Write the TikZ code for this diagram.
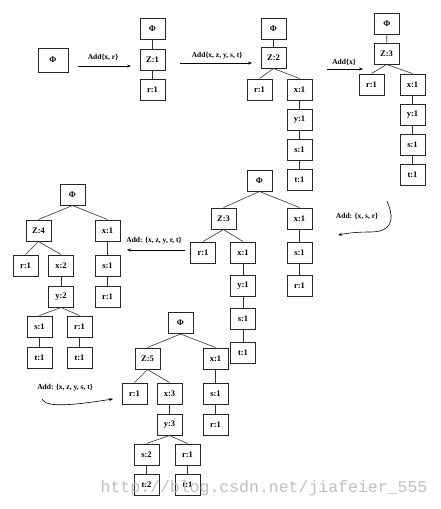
\documentclass[tikz,border=0pt]{standalone}
\usepackage{fontspec}
\setmainfont{Liberation Serif}
\newfontfamily\wmfont{Liberation Mono}
\usetikzlibrary{arrows.meta}
\tikzset{
  bx/.style={draw=black!85, line width=1pt, minimum width=25pt, minimum height=21pt, inner sep=0pt, font=\bfseries\fontsize{8.5}{9}\selectfont},
  big/.style={bx, minimum width=30pt, minimum height=24pt},
  ed/.style={draw=black!80, line width=0.6pt},
  ar/.style={draw=black, line width=0.6pt, -{Stealth[length=4pt,width=3pt]}},
  lb/.style={font=\bfseries\fontsize{7.5}{8}\selectfont, inner sep=0pt},
}
\begin{document}
\begin{tikzpicture}[x=1pt,y=-1pt]
\useasboundingbox (0,0) rectangle (441,509);
% tree 0
\node[big] (p0) at (53,60) {Φ};
% tree 1
\node[bx] (p1) at (152.5,28.5) {Φ};
\node[bx] (z1) at (152.5,59.5) {Z:1};
\node[bx] (r1) at (152.5,89.5) {r:1};
\draw[ed] (p1) -- (z1); \draw[ed] (z1) -- (r1);
% tree 2
\node[bx] (p2) at (273.5,29) {Φ};
\node[bx] (z2) at (273.5,57.5) {Z:2};
\node[bx] (r2) at (259.5,89.5) {r:1};
\node[bx] (x2) at (299.5,89.5) {x:1};
\node[bx] (y2) at (299.5,119.5) {y:1};
\node[bx] (s2) at (299.5,149.5) {s:1};
\node[bx] (t2) at (299.5,179.5) {t:1};
\draw[ed] (p2) -- (z2);
\draw[ed] (z2.south) -- (r2.north); \draw[ed] (z2.south) -- (x2.north);
\draw[ed] (x2) -- (y2); \draw[ed] (y2) -- (s2); \draw[ed] (s2) -- (t2);
% tree 3
\node[bx] (p3) at (387,23.5) {Φ};
\node[bx] (z3) at (386.5,53.5) {Z:3};
\node[bx] (r3) at (371.5,84.5) {r:1};
\node[bx] (x3) at (412.5,84.5) {x:1};
\node[bx] (y3) at (412.5,114.5) {y:1};
\node[bx] (s3) at (412.5,144.5) {s:1};
\node[bx] (t3) at (412.5,174.5) {t:1};
\draw[ed] (p3) -- (z3);
\draw[ed] (z3.south) -- (r3.north); \draw[ed] (z3.south) -- (x3.north);
\draw[ed] (x3) -- (y3); \draw[ed] (y3) -- (s3); \draw[ed] (s3) -- (t3);
% tree 4
\node[bx] (p4) at (259.5,180.5) {Φ};
\node[bx] (z4) at (223.5,218.5) {Z:3};
\node[bx] (xa4) at (299.5,218.5) {x:1};
\node[bx] (sa4) at (299.5,252.5) {s:1};
\node[bx] (ra4) at (299.5,285.5) {r:1};
\node[bx] (r4) at (203,252.5) {r:1};
\node[bx] (x4) at (243,252.5) {x:1};
\node[bx] (y4) at (243,285.5) {y:1};
\node[bx] (s4) at (243,318.5) {s:1};
\node[bx] (t4) at (243,352.5) {t:1};
\draw[ed] (p4.south) -- (z4.north); \draw[ed] (p4.south) -- (xa4.north);
\draw[ed] (xa4) -- (sa4); \draw[ed] (sa4) -- (ra4);
\draw[ed] (z4.south) -- (r4.north); \draw[ed] (z4.south) -- (x4.north);
\draw[ed] (x4) -- (y4); \draw[ed] (y4) -- (s4); \draw[ed] (s4) -- (t4);
% tree 5
\node[bx] (p5) at (72.5,194.5) {Φ};
\node[bx] (z5) at (38.5,230.5) {Z:4};
\node[bx] (xa5) at (107.5,230.5) {x:1};
\node[bx] (sa5) at (107.5,265.5) {s:1};
\node[bx] (ra5) at (107.5,296.5) {r:1};
\node[bx] (r5) at (25.5,265.5) {r:1};
\node[bx] (x5) at (61,265.5) {x:2};
\node[bx] (y5) at (61,296.5) {y:2};
\node[bx] (s5) at (39.5,326.5) {s:1};
\node[bx] (rb5) at (79.5,326.5) {r:1};
\node[bx] (t5) at (39.5,357.5) {t:1};
\node[bx] (tb5) at (79.5,357.5) {t:1};
\draw[ed] (p5.south) -- (z5.north); \draw[ed] (p5.south) -- (xa5.north);
\draw[ed] (xa5) -- (sa5); \draw[ed] (sa5) -- (ra5);
\draw[ed] (z5.south) -- (r5.north); \draw[ed] (z5.south) -- (x5.north);
\draw[ed] (x5) -- (y5);
\draw[ed] (y5.south) -- (s5.north); \draw[ed] (y5.south) -- (rb5.north);
\draw[ed] (s5) -- (t5); \draw[ed] (rb5) -- (tb5);
% tree 6
\node[bx] (p6) at (180.5,323) {Φ};
\node[bx] (z6) at (147.5,358.5) {Z:5};
\node[bx] (xa6) at (215.5,358.5) {x:1};
\node[bx] (sa6) at (215.5,393.5) {s:1};
\node[bx] (ra6) at (215.5,424.5) {r:1};
\node[bx] (r6) at (134.5,393.5) {r:1};
\node[bx] (x6) at (169.5,393.5) {x:3};
\node[bx] (y6) at (169.5,424.5) {y:3};
\node[bx] (s6) at (146.5,454.5) {s:2};
\node[bx] (rb6) at (187.5,454.5) {r:1};
\node[bx] (t6) at (146.5,484.5) {t:2};
\node[bx] (tb6) at (187.5,484.5) {t:1};
\draw[ed] (p6.south) -- (z6.north); \draw[ed] (p6.south) -- (xa6.north);
\draw[ed] (xa6) -- (sa6); \draw[ed] (sa6) -- (ra6);
\draw[ed] (z6.south) -- (r6.north); \draw[ed] (z6.south) -- (x6.north);
\draw[ed] (x6) -- (y6);
\draw[ed] (y6.south) -- (s6.north); \draw[ed] (y6.south) -- (rb6.north);
\draw[ed] (s6) -- (t6); \draw[ed] (rb6) -- (tb6);
% arrows
\coordinate (a1s) at (78,66); \coordinate (a1e) at (131,66);
\coordinate (a2s) at (180,63); \coordinate (a2e) at (252,63);
\coordinate (a3s) at (327,69); \coordinate (a3e) at (363,69);
\coordinate (a4s) at (387,201); \coordinate (a4e) at (338,235);
\coordinate (a5s) at (185,250); \coordinate (a5e) at (127,250);
\coordinate (a6s) at (42,399); \coordinate (a6e) at (113,399);
\draw[ar] (a1s) -- (a1e);
\draw[ar] (a2s) -- (a2e);
\draw[ar] (a3s) -- (a3e);
\draw[ar] (a4s) .. controls (396,222) and (390,232) .. (370,232) .. controls (358,232) and (348,233) .. (a4e);
\draw[ar] (a5s) -- (a5e);
\draw[ar] (a6s) .. controls (46,409) and (80,404) .. (a6e);
\node[lb] (l1) at (103,57) {Add\{x, r\}};
\node[lb] (l2) at (217,56) {Add\{x, z, y, s, t\}};
\node[lb] (l3) at (344,62) {Add\{x\}};
\node[lb] (l4) at (357,216) {Add: \{x, s, r\}};
\node[lb] (l5) at (154,241) {Add: \{x, z, y, r, t\}};
\node[lb] (l6) at (65,388) {Add: \{x, z, y, s, t\}};
\node[font=\wmfont\fontsize{16.5}{17}\selectfont, text=black!25, inner sep=0pt] (wm) at (264,488) {http://blog.csdn.net/jiafeier\_555};
\end{tikzpicture}
\end{document}
